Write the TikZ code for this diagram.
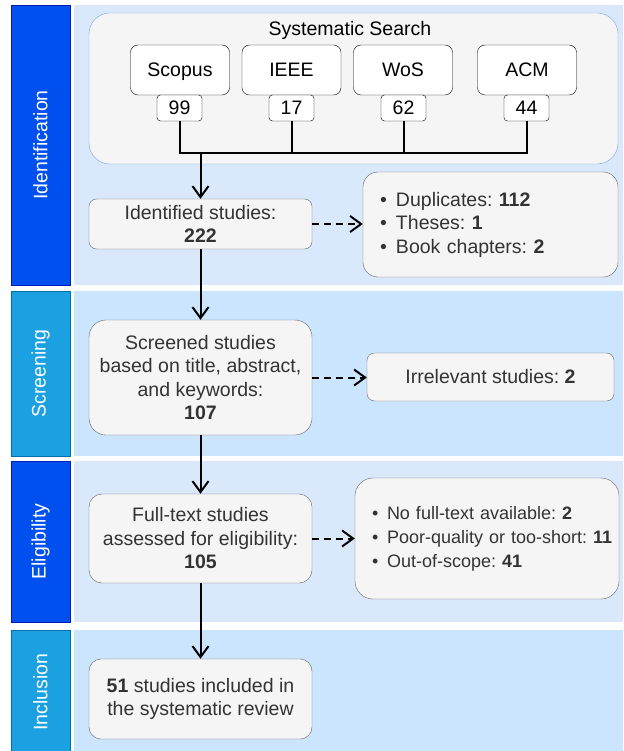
\documentclass[tikz,border=0pt]{standalone}
\usepackage{fontspec}
\setmainfont{Liberation Sans}
\usetikzlibrary{arrows.meta}

\definecolor{phasedark}{HTML}{0050EF}
\definecolor{phasedarkline}{HTML}{001DBC}
\definecolor{phaselight}{HTML}{1BA1E2}
\definecolor{phaselightline}{HTML}{006EAF}
\definecolor{bandA}{HTML}{DAE8FC}
\definecolor{bandB}{HTML}{CCE5FF}
\definecolor{boxfill}{HTML}{F5F5F5}
\definecolor{boxline}{HTML}{666666}
\definecolor{boxtext}{HTML}{333333}
\definecolor{searchline}{HTML}{7EA6E0}

\newcommand\diafont{\fontsize{19.5}{23.5}\selectfont\frenchspacing}
\newcommand\listfont{\fontsize{18}{24}\selectfont\frenchspacing}
\newcommand\bul[1]{\makebox[#1][l]{\textbullet}}

\tikzset{
  phase/.style={text=white, rotate=90, inner sep=0pt},
  study/.style={draw=boxline, fill=boxfill, text=boxtext, rounded corners=#1,
    align=center, minimum width=223pt, inner sep=0pt},
  source/.style={draw=black, fill=white, rounded corners=7.5pt, text depth=0pt,
    minimum width=99pt, minimum height=50pt, inner sep=0pt},
  count/.style={draw=black, fill=white, rounded corners=3.5pt,
    minimum width=45pt, minimum height=26pt, inner sep=0pt},
  flow/.style={black, line width=2pt, -{Straight Barb[length=11pt,width=16pt]}},
  skip/.style={flow, dash pattern=on 7pt off 5pt},
  bus/.style={black, line width=2pt}
}

\begin{document}
\begin{tikzpicture}[x=1pt, y=-1pt, font=\diafont]
                \clip (0,0) rectangle (623,751);
                \fill [white] (0,0) rectangle (623,751);
                % Identification
                \filldraw [fill=phasedark, draw=phasedarkline] (11,5) rectangle (70,285);
                \fill [bandA] (74,5) rectangle (623,285);
                \node [phase] (idlabel) at (40.5,145) {Identification};
                % Screening
                \filldraw [fill=phaselight, draw=phaselightline] (11,291) rectangle (70,456);
                \fill [bandB] (74,291) rectangle (623,456);
                \node [phase] (sclabel) at (40.5,373.5) {Screening};
                % Eligibility
                \filldraw [fill=phasedark, draw=phasedarkline] (11,461) rectangle (70,622);
                \fill [bandA] (74,461) rectangle (623,622);
                \node [phase] (ellabel) at (40.5,541.5) {Eligibility};
                % Inclusion
                \filldraw [fill=phaselight, draw=phaselightline] (11,630) rectangle (70,760);
                \fill [bandB] (74,630) rectangle (623,760);
                \node [phase] (inlabel) at (40.5,692) {Inclusion};

                % Systematic search
                \node [draw=searchline, fill=boxfill, rounded corners=21pt,
                  minimum width=529pt, minimum height=151pt] (search) at (353.5,88.5) {};
                \node [text depth=0pt] (searchtitle) at (350,28.5) {Systematic Search};
                \node [source] (scopus) at (180,70) {Scopus};
                \node [source] (ieee) at (291.5,70) {IEEE};
                \node [source] (wos) at (403,70) {WoS};
                \node [source] (acm) at (527,70) {ACM};
                \node [count] (n99) at (179.5,108) {99};
                \node [count] (n17) at (291.5,108) {17};
                \node [count] (n62) at (403.5,108) {62};
                \node [count] (n44) at (526.5,108) {44};
                \coordinate (bus) at (0,153);
                \draw [bus] (n99.south) -- (n99.south |- bus) -- (n44.south |- bus) -- (n44.south);
                \draw [bus] (n17.south) -- (n17.south |- bus);
                \draw [bus] (n62.south) -- (n62.south |- bus);

                % Main studies
                \node [study=7.5pt, minimum height=50pt] (ident) at (200.5,224)
                  {Identified studies:\\\textbf{222}};
                \node [study=17pt, minimum height=115pt] (screen) at (200.5,377.5)
                  {Screened studies\\based on title, abstract,\\and keywords:\\\textbf{107}};
                \node [study=13pt, minimum height=89pt] (full) at (200.5,538.5)
                  {Full-text studies\\assessed for eligibility:\\\textbf{105}};
                \node [study=12pt, minimum height=80pt] (incl) at (200.5,699)
                  {\textbf{51} studies included in\\the systematic review};

                % Excluded studies
                \node [study=15pt, minimum width=0pt, minimum height=105pt, align=left,
                  text width=221pt, inner xsep=17pt] (dup) at (490.5,224.5)
                  {\bul{16pt}Duplicates: \textbf{112}\\
                   \bul{16pt}Theses: \textbf{1}\\
                   \bul{16pt}Book chapters: \textbf{2}};
                \node [study=7.5pt, minimum width=247pt, minimum height=48pt] (irr) at (490.5,377)
                  {Irrelevant studies: \textbf{2}};
                \node [study=18pt, minimum width=0pt, minimum height=121pt, align=left,
                  text width=230pt, inner xsep=17pt, font=\listfont] (excl) at (487,538.5)
                  {\mbox{\bul{15pt}No full-text available: \textbf{2}}\\
                   \mbox{\bul{15pt}Poor-quality or too-short: \textbf{11}}\\
                   \mbox{\bul{15pt}Out-of-scope: \textbf{41}}};

                % Flow
                \draw [flow] (ident.north |- bus) -- (ident.north);
                \draw [flow] (ident) -- (screen);
                \draw [flow] (screen) -- (full);
                \draw [flow] (full) -- (incl);
                \draw [skip] (ident.east) -- (ident.east -| dup.west);
                \draw [skip] (screen.east) -- (screen.east -| irr.west);
                \draw [skip] (full.east) -- (full.east -| excl.west);
            \end{tikzpicture}
\end{document}
